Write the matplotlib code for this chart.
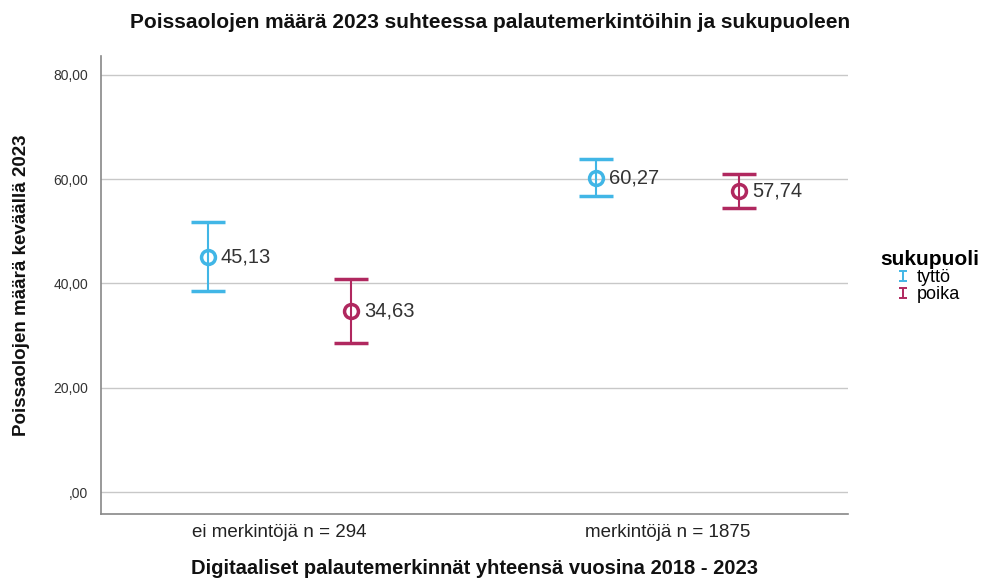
import matplotlib
matplotlib.use("Agg")
import matplotlib.pyplot as plt
from matplotlib.path import Path
from matplotlib.lines import Line2D
import numpy as np

plt.rcParams['font.family'] = ['Liberation Sans', 'DejaVu Sans']

categories = ["ei merkintöjä n = 294", "merkintöjä n = 1875"]
groups = ["tyttö", "poika"]
means = {"tyttö": [45.13, 60.27], "poika": [34.63, 57.74]}
lower = {"tyttö": [38.5, 56.8], "poika": [28.6, 54.5]}
upper = {"tyttö": [51.8, 63.9], "poika": [40.8, 61.0]}
value_labels = {"tyttö": ["45,13", "60,27"], "poika": ["34,63", "57,74"]}
yticks = [0, 20, 40, 60, 80]
ytick_labels = [",00", "20,00", "40,00", "60,00", "80,00"]
colors = {"tyttö": "#41b6e6", "poika": "#b0285f"}
offsets = {"tyttö": -0.185, "poika": 0.185}

fig = plt.figure(figsize=(9.87, 5.80), dpi=100)
ax = fig.add_axes([101/987, 1 - 514/580, (848 - 101)/987, (514 - 56)/580])

x = np.arange(len(categories))
for g in groups:
    m = np.array(means[g])
    lo = np.array(lower[g])
    hi = np.array(upper[g])
    xs = x + offsets[g]
    ax.errorbar(xs, m, yerr=[m - lo, hi - m], fmt='o', color=colors[g],
                mfc='none', mec=colors[g], mew=2.5, ms=10, elinewidth=1.5,
                capsize=12.5, capthick=1.5, zorder=3)
    for xi, mi, lab in zip(xs, m, value_labels[g]):
        ax.annotate(lab, (xi, mi), xytext=(9.5, 0), textcoords='offset points',
                    va='center', ha='left', fontsize=14.5, color='#333333', zorder=4)

ax.set_xlim(-0.46, 1.465)
ax.set_ylim(-4.2, 83.6)
ax.set_yticks(yticks)
ax.set_yticklabels(ytick_labels, fontsize=10, color='#333333')
ax.set_xticks(x)
ax.set_xticklabels(categories, fontsize=13.5, color='#222222')
ax.tick_params(length=0, pad=7)
ax.tick_params(axis='y', pad=9)
ax.grid(axis='y', color='#c8c8c8', linewidth=1.0)
ax.set_axisbelow(True)
for s in ['top', 'right']:
    ax.spines[s].set_visible(False)
for s in ['left', 'bottom']:
    ax.spines[s].set_color('#888888')
    ax.spines[s].set_linewidth(1.2)

ax.set_ylabel("Poissaolojen määrä keväällä 2023", fontsize=13.5, fontweight='bold',
              color='#111111', labelpad=17)
ax.set_xlabel("Digitaaliset palautemerkinnät yhteensä vuosina 2018 - 2023", fontsize=14.5,
              fontweight='bold', color='#111111', labelpad=13)
fig.text(0.497, 1 - 23/580, "Poissaolojen määrä 2023 suhteessa palautemerkintöihin ja sukupuoleen",
         ha='center', va='center', fontsize=15, fontweight='bold', color='#111111')

ipath = Path([(-0.45, 0.6), (0.45, 0.6), (0, 0.6), (0, -0.6), (-0.45, -0.6), (0.45, -0.6)],
             [Path.MOVETO, Path.LINETO, Path.MOVETO, Path.LINETO, Path.MOVETO, Path.LINETO])
handles = [Line2D([], [], color=colors[g], marker=ipath, linestyle='none', markersize=7.5,
                  mew=1.4, label=g) for g in groups]
leg = fig.legend(handles=handles, title="sukupuoli", loc='upper left',
                 bbox_to_anchor=(871/987, 1 - 241/580), frameon=False,
                 fontsize=13, title_fontproperties={'weight': 'bold', 'size': 15},
                 handlelength=0.5, handletextpad=0.5, labelspacing=0.0, borderpad=0)
leg._legend_box.align = "center"

fig.savefig("out.png", dpi=100)
